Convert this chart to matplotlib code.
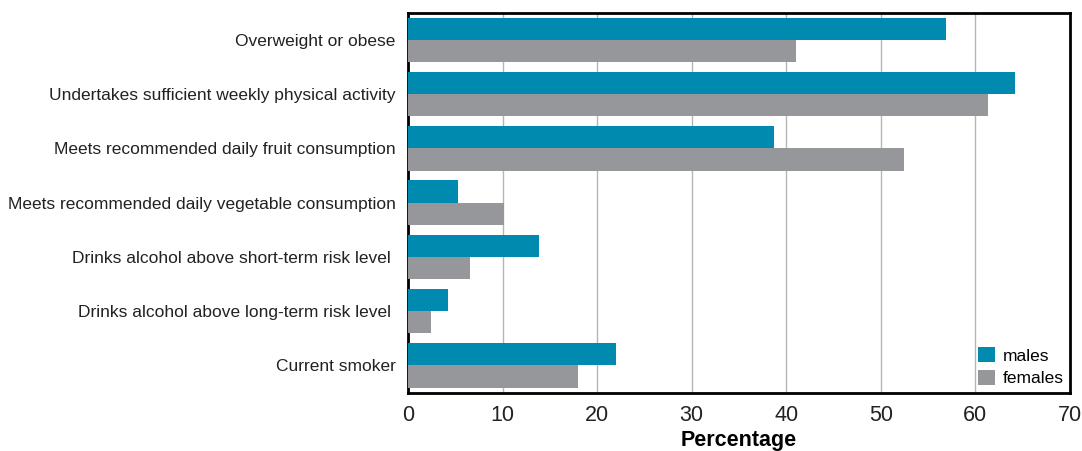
import matplotlib.pyplot as plt
import numpy as np
from matplotlib import font_manager

# pick a condensed font if one is around
names = {f.name for f in font_manager.fontManager.ttflist}
family = 'Liberation Sans Narrow' if 'Liberation Sans Narrow' in names else 'Liberation Sans'
plt.rcParams['font.family'] = [family, 'DejaVu Sans']

categories = [
    'Overweight or obese',
    'Undertakes sufficient weekly physical activity',
    'Meets recommended daily fruit consumption',
    'Meets recommended daily vegetable consumption',
    'Drinks alcohol above short-term risk level ',
    'Drinks alcohol above long-term risk level ',
    'Current smoker',
]
males = [56.9, 64.2, 38.7, 5.3, 13.9, 4.2, 22.0]
females = [41.0, 61.3, 52.4, 10.2, 6.6, 2.4, 18.0]
xticks = [0, 10, 20, 30, 40, 50, 60, 70]

male_color = '#008ab0'
female_color = '#96979b'

fig = plt.figure(figsize=(10.82, 4.51), dpi=100)
ax = fig.add_axes([0.3771, 0.1297, 0.6118, 0.8421])

y = np.arange(len(categories))
h = 0.41
ax.barh(y - h / 2, males, height=h, color=male_color, label='males', zorder=3)
ax.barh(y + h / 2, females, height=h, color=female_color, label='females', zorder=3)

ax.set_ylim(len(categories) - 0.5, -0.5)
ax.set_xlim(0, 70)
ax.set_yticks(y)
ax.set_yticklabels(categories, fontsize=12.5, color='#222222')
ax.set_xticks(xticks)
ax.set_xticklabels([str(t) for t in xticks], fontsize=15.5, color='#222222')
ax.tick_params(axis='both', length=0)
ax.tick_params(axis='y', pad=9)
ax.tick_params(axis='x', pad=9)

ax.grid(axis='x', color='#b5b5b5', linewidth=1, zorder=0)
for s in ax.spines.values():
    s.set_linewidth(2)
    s.set_color('black')

ax.set_xlabel('Percentage', fontsize=15.5, fontweight='bold', labelpad=3)

ax.legend(loc='lower right', frameon=False, fontsize=12.5, handlelength=1.0,
          handleheight=1.0, handletextpad=0.45, labelspacing=0.35,
          borderpad=0.3, borderaxespad=0.05)

plt.savefig('out.png', dpi=100)
